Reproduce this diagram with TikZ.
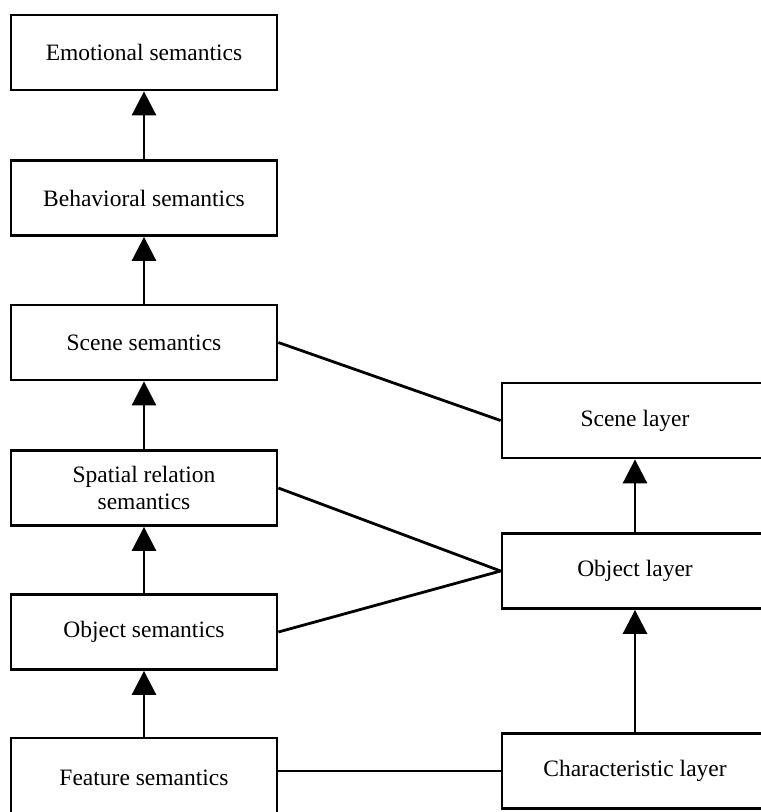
\documentclass[tikz,border=0pt]{standalone}
\usepackage{fontspec}
\setmainfont{Liberation Serif}
\usetikzlibrary{arrows.meta}
\begin{document}
\begin{tikzpicture}[x=1pt,y=-1pt,
  box/.style={draw, line width=2.8pt, minimum width=266pt, minimum height=75pt,
    inner sep=2pt, align=center, font=\fontsize{23.5}{27}\selectfont},
  up/.style={line width=2.8pt, -{Triangle[length=24pt,width=24pt]}},
  link/.style={line width=2.8pt}]
\useasboundingbox (0,0) rectangle (761,812);
\clip (0,0) rectangle (761,812);
% left column: semantic levels
\node[box] (emo) at (144,52.5) {Emotional semantics};
\node[box] (beh) at (144,198) {Behavioral semantics};
\node[box] (scs) at (144,342.5) {Scene semantics};
\node[box] (spa) at (144,488) {Spatial relation\\semantics};
\node[box] (obs) at (144,632) {Object semantics};
\node[box, minimum height=80pt] (fea) at (144,778) {Feature semantics};
% right column: layers
\node[box] (scl) at (635,420.5) {Scene layer};
\node[box] (obl) at (635,571) {Object layer};
\node[box] (chl) at (635,771) {Characteristic layer};
% upward arrows
\draw[up] (beh) -- (emo);
\draw[up] (scs) -- (beh);
\draw[up] (spa) -- (scs);
\draw[up] (obs) -- (spa);
\draw[up] (fea) -- (obs);
\draw[up] (obl) -- (scl);
\draw[up] (chl) -- (obl);
% correspondences between levels and layers
\draw[link] (scs.east) -- (scl.west);
\draw[link] (spa.east) -- (obl.west);
\draw[link] (obs.east) -- (obl.west);
\draw[link] (fea.east |- chl.west) -- (chl.west);
\end{tikzpicture}
\end{document}
